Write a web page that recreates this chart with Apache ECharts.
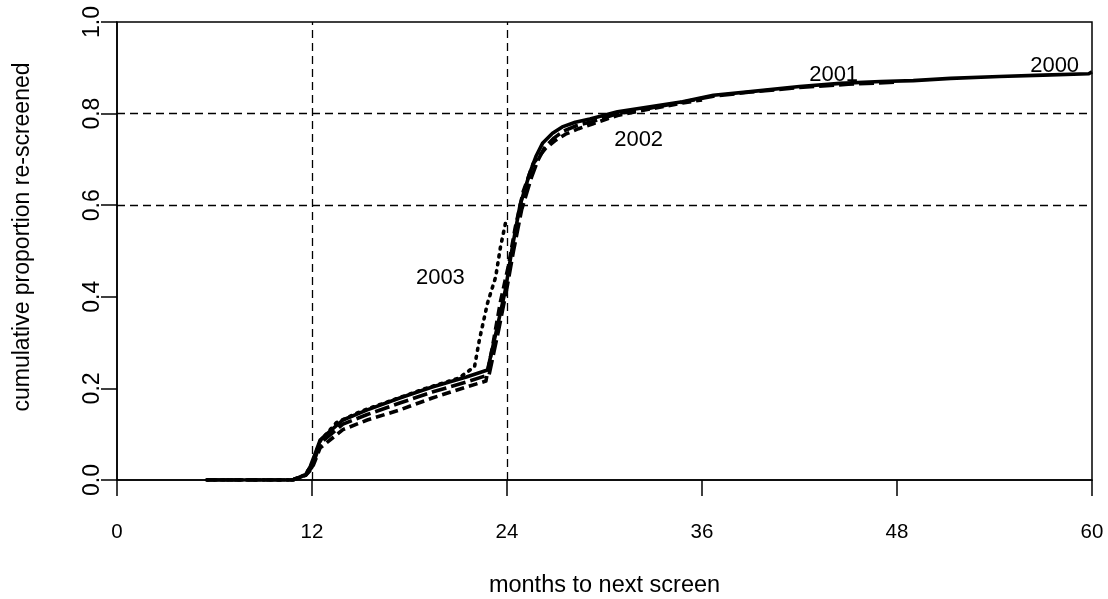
<!DOCTYPE html>
<html>
<head>
<meta charset="utf-8">
<script src="https://cdn.jsdelivr.net/npm/echarts@6/dist/echarts.min.js"></script>
<style>
html,body{margin:0;padding:0;background:#fff;}
#chart{width:1108px;height:599px;}
</style>
</head>
<body>
<div id="chart"></div>
<script>
// ---- data (months to next screen vs cumulative proportion re-screened) ----
var x2000 = [5.5, 9, 10.8, 11.6, 11.9, 12.2, 12.5, 12.9, 13.9, 15.4, 17.4, 19.4, 21.5, 22.8, 23.4, 23.9, 24.3, 24.8, 25.4, 25.8, 26.2, 26.8, 27.4, 28.2, 29.1, 30.8, 32.8, 34.8, 36.7, 39, 42, 44.5, 47, 49, 51.3, 54.3, 57, 59.8, 60];
var y2000 = [0, 0, 0, 0.011, 0.03, 0.058, 0.087, 0.1, 0.131, 0.153, 0.179, 0.203, 0.225, 0.24, 0.334, 0.415, 0.502, 0.6, 0.67, 0.708, 0.736, 0.757, 0.771, 0.781, 0.788, 0.804, 0.815, 0.826, 0.84, 0.848, 0.859, 0.866, 0.87, 0.872, 0.877, 0.881, 0.884, 0.887, 0.891];

var x2001 = [5.5, 10.8, 11.6, 12, 12.5, 13.9, 15.4, 17.4, 19.4, 21.5, 22.9, 23.5, 24.0, 24.4, 24.9, 25.5, 25.9, 26.3, 26.9, 27.5, 28.3, 29.2, 30.8, 32.8, 34.8, 36.7, 39, 42, 45, 48];
var y2001 = [0, 0, 0.01, 0.028, 0.08, 0.122, 0.143, 0.168, 0.192, 0.214, 0.23, 0.33, 0.42, 0.5, 0.59, 0.66, 0.698, 0.725, 0.747, 0.762, 0.774, 0.782, 0.8, 0.812, 0.825, 0.838, 0.847, 0.857, 0.864, 0.869];

var x2002 = [5.5, 10.8, 11.6, 12, 12.5, 13.9, 15.4, 17.4, 19.4, 21.5, 22.7, 23.1, 23.6, 24.1, 24.5, 25.0, 25.6, 26.0, 26.4, 27.0, 27.6, 28.4, 29.3, 30.8, 32.8, 34.8, 36];
var y2002 = [0, 0, 0.01, 0.025, 0.07, 0.11, 0.131, 0.153, 0.179, 0.203, 0.216, 0.29, 0.39, 0.47, 0.55, 0.63, 0.69, 0.708, 0.725, 0.742, 0.755, 0.767, 0.778, 0.796, 0.81, 0.823, 0.83];

var x2003 = [5.5, 10.8, 11.6, 12, 12.5, 13.5, 15, 17, 19, 21, 22.0, 22.3, 22.8, 23.3, 23.6, 23.95];
var y2003 = [0, 0, 0.012, 0.035, 0.085, 0.125, 0.15, 0.175, 0.2, 0.222, 0.247, 0.306, 0.386, 0.443, 0.509, 0.568];

var years = ['2000', '2001', '2002', '2003'];
var labelX = [57.7, 44.1, 32.1, 19.9];
var labelY = [0.905, 0.885, 0.742, 0.441];

var xTicks = [0, 12, 24, 36, 48, 60];
var yTicks = [0, 0.2, 0.4, 0.6, 0.8, 1.0];
var refX = [12, 24];
var refY = [0.6, 0.8];

function pairs(xs, ys) { return xs.map(function (v, i) { return [v, ys[i]]; }); }

var FONT = 'Liberation Sans, Arial, sans-serif';
var chart = echarts.init(document.getElementById('chart'), null, { renderer: 'canvas' });

var seriesDefs = [
  { name: '2003', x: x2003, y: y2003, dash: [2, 6], cap: 'round' },
  { name: '2002', x: x2002, y: y2002, dash: [9, 5], cap: 'butt' },
  { name: '2001', x: x2001, y: y2001, dash: [15, 5], cap: 'butt' },
  { name: '2000', x: x2000, y: y2000, dash: 'solid', cap: 'butt' }
];

var series = seriesDefs.map(function (s) {
  return {
    name: s.name, type: 'line', data: pairs(s.x, s.y),
    showSymbol: false, symbol: 'none', smooth: false, animation: false,
    lineStyle: { color: '#000', width: 3.6, type: s.dash, cap: s.cap, join: 'round' },
    z: 3
  };
});

// reference dashed lines + year labels
series.push({
  type: 'line', data: [], silent: true, animation: false,
  markLine: {
    silent: true, symbol: 'none', animation: false,
    label: { show: false },
    lineStyle: { color: '#000', width: 1.3, type: [8, 5] },
    data: refX.map(function (v) { return { xAxis: v }; }).concat(refY.map(function (v) { return { yAxis: v }; }))
  },
  markPoint: {
    silent: true, animation: false, symbol: 'circle', symbolSize: 1,
    itemStyle: { color: 'rgba(0,0,0,0)' },
    label: {
      show: true, position: 'inside', color: '#000', opacity: 1,
      fontFamily: FONT, fontSize: 22, textBorderWidth: 0,
      formatter: function (p) { return p.name; }
    },
    data: years.map(function (y, i) { return { name: y, coord: [labelX[i], labelY[i]] }; })
  }
});

chart.setOption({
  backgroundColor: '#fff',
  animation: false,
  grid: { left: 117, right: 16, top: 22, bottom: 119, show: true, borderColor: '#000', borderWidth: 1.5,
    backgroundColor: 'transparent', containLabel: false, outerBoundsMode: 'none' },
  xAxis: {
    type: 'value', min: 0, max: 60, interval: 12,
    name: 'months to next screen', nameLocation: 'middle', nameGap: 94,
    nameTextStyle: { color: '#000', fontFamily: FONT, fontSize: 23.5 },
    axisLine: { show: true, onZero: false, lineStyle: { color: '#000', width: 1.5 } },
    axisTick: { show: true, length: 16, lineStyle: { color: '#000', width: 1.5 } },
    axisLabel: { color: '#000', fontFamily: FONT, fontSize: 20.5, margin: 42,
      formatter: function (v) { return xTicks.indexOf(v) >= 0 ? String(v) : ''; } },
    splitLine: { show: false }
  },
  yAxis: {
    type: 'value', min: 0, max: 1, interval: 0.2,
    name: 'cumulative proportion re-screened', nameLocation: 'middle', nameGap: 83,
    nameTextStyle: { color: '#000', fontFamily: FONT, fontSize: 23, padding: [0, 0, 0, 28] },
    axisLine: { show: true, lineStyle: { color: '#000', width: 1.5 } },
    axisTick: { show: true, length: 16, lineStyle: { color: '#000', width: 1.5 } },
    axisLabel: { color: '#000', fontFamily: FONT, fontSize: 23, rotate: 90, margin: 13,
      formatter: function (v) { return v.toFixed(1); } },
    splitLine: { show: false }
  },
  series: series
});
</script>
</body>
</html>
